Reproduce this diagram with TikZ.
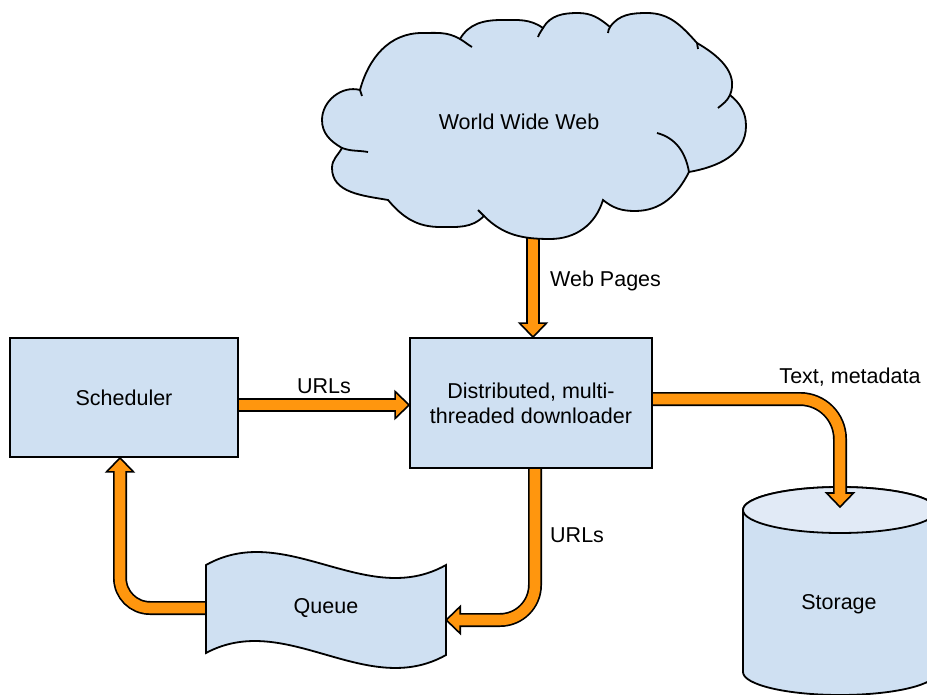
\documentclass[tikz,border=0pt]{standalone}
\usepackage{fontspec}
\setmainfont{Liberation Sans}
\usetikzlibrary{calc}
\pgfdeclarelayer{bg}
\pgfsetlayers{bg,main}
\definecolor{boxblue}{RGB}{207,224,242}
\definecolor{topblue}{RGB}{225,234,246}
\definecolor{flow}{RGB}{255,150,14}

\begin{document}
\begin{tikzpicture}[x=1pt,y=1pt,
  every node/.style={font=\fontsize{21.5}{25}\selectfont, text=black},
  box/.style={draw=black, line width=1.8pt, fill=boxblue, inner sep=0pt, align=center},
  outline/.style={draw=black, line width=1.8pt, fill=boxblue},
  puff/.style={draw=black, line width=1.8pt},
  shaftout/.style={draw=black, line width=14pt, shorten >=14pt},
  shaftin/.style={draw=flow, line width=10.6pt, shorten >=12pt},
  flowhead/.pic={\filldraw[fill=flow, draw=black, line width=1.6pt, line join=miter]
      (0,0) -- (-14,13.5) -- (-14,-13.5) -- cycle;},
  flowlabel/.style={inner sep=0pt}
]
\useasboundingbox (0,0) rectangle (927,-695);

% ---------- World Wide Web cloud ----------
\filldraw[outline] (342,-148)
  to[out=150,in=270] (322,-120)
  to[out=90,in=165]  (360,-90)
  to[out=75,in=180]  (422,-33)
  to[out=0,in=150]   (460,-39)
  to[out=60,in=180]  (502,-20)
  to[out=0,in=145]   (543,-28)
  to[out=60,in=180]  (578,-13)
  to[out=0,in=140]   (610,-27)
  to[out=55,in=180]  (647,-13)
  to[out=0,in=132]   (697,-43)
  to[out=-30,in=68]  (730,-95)
  to[out=-40,in=90]  (746,-126)
  to[out=270,in=10]  (689,-172)
  to[out=243,in=0]   (635,-211)
  to[out=180,in=321] (603,-200)
  to[out=253,in=0]   (550,-239)
  to[out=180,in=315] (484,-216)
  to[out=225,in=0]   (440,-227)
  to[out=180,in=310] (388,-200)
  to[out=170,in=270] (332,-168)
  to[out=90,in=241]  cycle;
% inner folds of the puffs
\draw[puff] (342,-148) to[out=-20,in=170] (368,-152);
\draw[puff] (360,-90) -- (362,-96);
\draw[puff] (460,-39) to[out=-30,in=150] (472,-47);
\draw[puff] (543,-28) to[out=240,in=70] (538,-37);
\draw[puff] (610,-27) to[out=235,in=80] (608,-33);
\draw[puff] (697,-43) to[out=290,in=95] (698,-49);
\draw[puff] (730,-95) to[out=245,in=40] (718,-108);
\draw[puff] (689,-172) to[out=100,in=-15] (657,-133);
\draw[puff] (484,-216) -- (478,-210);
\node (www) at (519,-122) {World Wide Web};
\coordinate (wwwbot) at (533,-236);

% ---------- boxes ----------
\node[box, minimum width=228pt, minimum height=119pt] (sched) at (124,-397.5) {Scheduler};
\node[box, minimum width=242pt, minimum height=130pt] (dl) at (531,-403)
  {Distributed, multi-\\threaded downloader};

% ---------- queue (tape) ----------
\filldraw[outline] (206,-565) .. controls (286,-520) and (366,-610) .. (446,-565)
  -- (446,-655) .. controls (366,-700) and (286,-610) .. (206,-653) -- cycle;
\node[inner sep=0pt, minimum width=240pt, minimum height=88pt] (queue) at (326,-608) {Queue};

% ---------- storage ----------
\node (storage) at (839,-604) {Storage};
\coordinate (stortop) at (840,-507);

\begin{pgfonlayer}{bg}
  % storage cylinder, under the flow into it
  \begin{scope}
    \clip (0,0) rectangle (927,-695);
    \filldraw[outline] (743,-510) -- (743,-672)
      arc[start angle=180, end angle=360, x radius=97, y radius=23]
      -- (937,-510) arc[start angle=0, end angle=180, x radius=97, y radius=23];
    \filldraw[outline, fill=topblue] (840,-510) ellipse[x radius=97, y radius=23];
  \end{scope}

  % ---------- flows ----------
  % cloud -> downloader
  \pic[rotate=-90] at (wwwbot |- dl.north) {flowhead};
  \draw[shaftout] (wwwbot) -- (wwwbot |- dl.north);
  \draw[shaftin]  (wwwbot) -- (wwwbot |- dl.north);
  % scheduler -> downloader
  \pic at (dl.west |- 0,-405) {flowhead};
  \draw[shaftout] (sched.east |- 0,-405) -- (dl.west |- 0,-405);
  \draw[shaftin]  (sched.east |- 0,-405) -- (dl.west |- 0,-405);
  % downloader -> storage
  \pic[rotate=-90] at (stortop) {flowhead};
  \draw[shaftout, rounded corners=40pt] ([yshift=4pt]dl.east) -| (stortop);
  \draw[shaftin, rounded corners=40pt]  ([yshift=4pt]dl.east) -| (stortop);
  % downloader -> queue
  \pic[rotate=180] at ([yshift=-12pt]queue.east) {flowhead};
  \draw[shaftout, rounded corners=35pt] ([xshift=4pt]dl.south) |- ([yshift=-12pt]queue.east);
  \draw[shaftin, rounded corners=35pt]  ([xshift=4pt]dl.south) |- ([yshift=-12pt]queue.east);
  % queue -> scheduler
  \pic[rotate=90] at ([xshift=-4pt]sched.south) {flowhead};
  \draw[shaftout, rounded corners=30pt] (queue.west) -| ([xshift=-4pt]sched.south);
  \draw[shaftin, rounded corners=30pt]  (queue.west) -| ([xshift=-4pt]sched.south);
\end{pgfonlayer}

% ---------- flow labels ----------
\node[flowlabel, anchor=west] (lweb) at (550,-281) {Web Pages};
\node[flowlabel] (lurl1) at (324,-386) {URLs};
\node[flowlabel] (ltext) at (850,-377) {Text, metadata};
\node[flowlabel, anchor=west] (lurl2) at (550,-535) {URLs};
\end{tikzpicture}
\end{document}
